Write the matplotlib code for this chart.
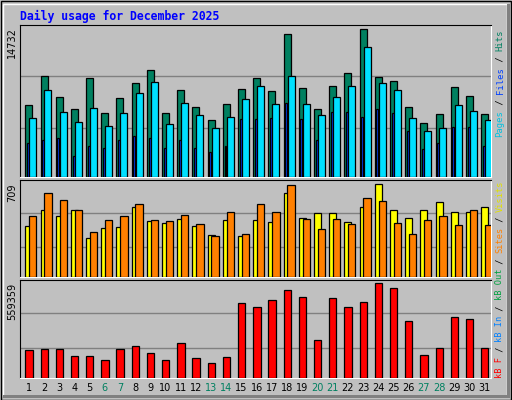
import matplotlib
matplotlib.use("Agg")
from matplotlib import pyplot as plt
from matplotlib.patches import Rectangle
import numpy as np

days = list(range(1, 32))
weekend = [6, 7, 13, 14, 20, 21, 27, 28]

hits = [7024, 9756, 7707, 6634, 9561, 6244, 7610, 9073, 10341, 6244, 8390, 6829, 5561, 7122, 8488, 9561,
        8293, 13854, 8585, 6634, 8780, 10049, 14341, 9659, 9268, 6829, 5268, 6146, 8683, 7805, 6146]
files = [5756, 8390, 6341, 5366, 6732, 4976, 6244, 8098, 9171, 5171, 7220, 6049, 4780, 5854, 7512, 8780,
         7122, 9756, 7122, 6049, 7707, 8780, 12585, 9073, 8390, 5756, 4488, 4780, 7024, 6439, 5561]
pages = [3317, 3610, 3805, 2049, 3024, 2829, 3610, 4000, 3805, 2829, 3610, 2829, 2439, 3024, 5658, 5658,
         5756, 7220, 5658, 3610, 6341, 6341, 5854, 6634, 6244, 4488, 2732, 3317, 4878, 4878, 3024]
visits = [393, 509, 470, 516, 301, 378, 385, 539, 432, 416, 447, 393, 324, 439, 316, 439,
          424, 640, 455, 493, 493, 424, 539, 709, 509, 455, 516, 570, 501, 501, 532]
sites = [470, 640, 586, 509, 347, 439, 470, 555, 439, 432, 478, 408, 316, 501, 331, 555,
         501, 701, 447, 370, 447, 408, 601, 578, 416, 331, 439, 470, 401, 516, 401]
kbytes = [167400, 173500, 173500, 130700, 130700, 106200, 173500, 191900, 149000, 106200, 204200,
          118400, 87800, 124500, 443000, 418500, 461400, 522600, 479800, 222500, 473600, 418500,
          449100, 559359, 534900, 338900, 136800, 179700, 363400, 351100, 179700]

BG = "#C0C0C0"
W, H = 512, 400
fig = plt.figure(figsize=(W / 100, H / 100), dpi=100, facecolor=BG)

# outer bevel
fig.patches.append(Rectangle((0.5 / W, 0.5 / H), 1 - 1.5 / W, 1 - 1.5 / H, transform=fig.transFigure,
                             fill=False, ec="black", lw=1))
fig.patches.append(Rectangle((3 / W, 4 / H), 1 - 8 / W, 1 - 8 / H, transform=fig.transFigure,
                             fill=False, ec="white", lw=1))
fig.patches.append(Rectangle((507 / W, 4 / H), 3 / W, 1 - 8 / H, transform=fig.transFigure,
                             color="#808080", lw=0))
fig.patches.append(Rectangle((3 / W, 2 / H), 1 - 5 / W, 3 / H, transform=fig.transFigure,
                             color="#808080", lw=0))

x = np.arange(31)


def panel(top, bottom):
    ax = fig.add_axes([20 / W, 1 - bottom / H, 471 / W, (bottom - top) / H])
    ax.set_facecolor(BG)
    ax.set_xlim(0, 31)
    ax.set_xticks([])
    ax.set_yticks([])
    for s in ["top", "left"]:
        ax.spines[s].set_color("black")
    for s in ["bottom", "right"]:
        ax.spines[s].set_color("white")
    return ax


bar_kw = dict(align="edge", edgecolor="black", linewidth=0.9, zorder=3)

ax1 = panel(25, 177)
ax1.set_ylim(0, 14732)
for g in [4780, 9756]:
    ax1.axhline(g, color="#808080", lw=1, zorder=1)
ax1.bar(x + 0.35, hits, width=0.46, color="#008060", **bar_kw)
ax1.bar(x + 0.46, pages, width=0.13, color="#0040FF", **bar_kw)
ax1.bar(x + 0.61, files, width=0.46, color="#00E0FF", **bar_kw)

ax2 = panel(180, 277)
ax2.set_ylim(0, 742)
for g in [231, 486]:
    ax2.axhline(g, color="#808080", lw=1, zorder=1)
ax2.bar(x + 0.35, visits, width=0.46, color="#FFFF00", **bar_kw)
ax2.bar(x + 0.6, sites, width=0.48, color="#FF8000", **bar_kw)

ax3 = panel(280, 378)
ax3.set_ylim(0, 579786)
for g in [179700, 381800]:
    ax3.axhline(g, color="#808080", lw=1, zorder=1)
ax3.bar(x + 0.35, kbytes, width=0.48, color="#FF0000", **bar_kw)

for d in days:
    ax3.text(d - 0.42, -0.05, str(d), transform=ax3.get_xaxis_transform(), ha="center", va="top",
             fontsize=7, color="#008060" if d in weekend else "black")

fig.text(20 / W, 1 - 16 / H, "Daily usage for December 2025", fontsize=8.3, fontweight="bold",
         family="DejaVu Sans Mono", color="#0000FF", va="center", ha="left")

for lab, ytop in [("14732", 27), ("709", 183), ("559359", 283)]:
    fig.text(17 / W, 1 - ytop / H, lab, rotation=90, ha="right", va="top", fontsize=7)


def side_label(parts, ybottom, step):
    y = ybottom
    for txt, col in parts:
        fig.text(500 / W, 1 - y / H, txt, rotation=90, ha="center", va="bottom", fontsize=step * 72 / 60.2,
                 family="DejaVu Sans Mono", color=col)
        y -= step * len(txt)


side_label([("Pages", "#00C0E0"), (" / ", "black"), ("Files", "#0040FF"), (" / ", "black"),
            ("Hits", "#008060")], 137, 5.35)
side_label([("kB F", "#FF0000"), (" / ", "black"), ("kB In", "#0080FF"), (" / ", "black"),
            ("kB Out", "#00A040"), (" / ", "black"), ("Sites", "#FF8000"), (" / ", "black"),
            ("Visits", "#E0E000")], 378, 5.2)

fig.savefig("out.png", dpi=100, facecolor=BG)
